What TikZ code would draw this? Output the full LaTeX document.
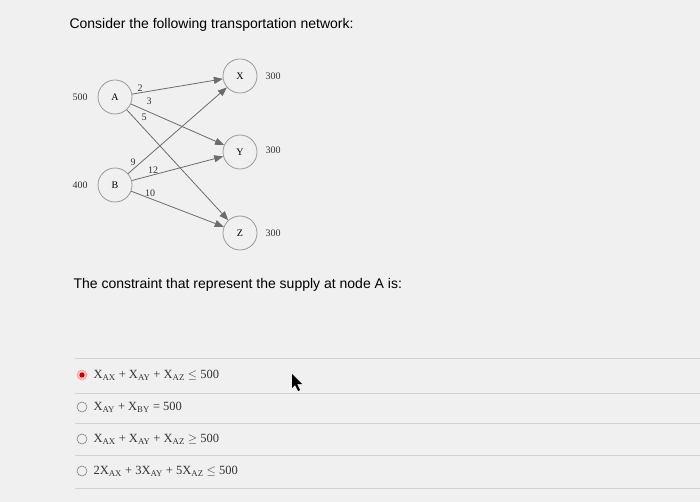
\documentclass[tikz,border=0pt]{standalone}
\usepackage{fontspec}
\setmainfont{Liberation Serif}
\newfontfamily\qsans{Liberation Sans}
\usetikzlibrary{arrows.meta}
\begin{document}
\begin{tikzpicture}[x=1pt,y=-1pt,
  nd/.style={circle,draw=gray!80,line width=0.8pt,minimum size=34pt,inner sep=0pt,font=\fontsize{10}{11}\selectfont},
  lab/.style={font=\fontsize{10}{11}\selectfont,text=black!80},
  arc/.style={draw=gray!85!black,line width=0.8pt,-{Triangle[length=9pt,width=7pt]}},
  opt/.style={anchor=west,font=\fontsize{12.5}{14}\selectfont,text=black!80},
  radio/.style={circle,draw=gray,line width=0.6pt,minimum size=10pt,inner sep=0pt},
  sep/.style={draw=gray!35,line width=0.6pt}]
\fill[gray!12] (0,0) rectangle (700,502);
\useasboundingbox (0,0) rectangle (700,502);
\node[anchor=west,font=\qsans\fontsize{14}{16}\selectfont] (q1) at (66,25) {Consider the following transportation network:};
\node[nd] (A) at (115,97) {A};
\node[nd] (B) at (115,185) {B};
\node[nd] (X) at (240,76) {X};
\node[nd] (Y) at (240,152) {Y};
\node[nd] (Z) at (240,233) {Z};
\node[lab] (sA) at (80,97) {500};
\node[lab] (sB) at (80,185) {400};
\node[lab] (dX) at (273,76) {300};
\node[lab] (dY) at (273,150) {300};
\node[lab] (dZ) at (273,233) {300};
\draw[arc] (A) -- (X);
\draw[arc] (A) -- (Y);
\draw[arc] (A) -- (Z);
\draw[arc] (B) -- (X);
\draw[arc] (B) -- (Y);
\draw[arc] (B) -- (Z);
\node[lab] (w1) at (140,88) {2};
\node[lab] (w2) at (149,101) {3};
\node[lab] (w3) at (144,117) {5};
\node[lab] (w4) at (133,162) {9};
\node[lab] (w5) at (153,170) {12};
\node[lab] (w6) at (150,193) {10};
\node[anchor=west,font=\qsans\fontsize{14}{16}\selectfont] (q2) at (70,285) {The constraint that represent the supply at node A is:};
\foreach \y in {358,393,423,455,488} \draw[sep] (75,\y) -- (700,\y);
\node[radio,draw=red!40,fill=red!25] (r1) at (82,375) {};
\fill[red!75!black] (r1.center) circle (2.6);
\node[radio] (r2) at (82,407) {};
\node[radio] (r3) at (82,439) {};
\node[radio] (r4) at (82,471) {};
\node[opt] (o1) at (90,375) {X\textsubscript{AX} + X\textsubscript{AY} + X\textsubscript{AZ} $\leq$ 500};
\node[opt] (o2) at (90,407) {X\textsubscript{AY} + X\textsubscript{BY} = 500};
\node[opt] (o3) at (90,439) {X\textsubscript{AX} + X\textsubscript{AY} + X\textsubscript{AZ} $\geq$ 500};
\node[opt] (o4) at (90,471) {2X\textsubscript{AX} + 3X\textsubscript{AY} + 5X\textsubscript{AZ} $\leq$ 500};
\fill[black] (292,374) -- (292,388) -- (295,385) -- (298,391) -- (300,390) -- (297,384) -- (302,384) -- cycle;
\end{tikzpicture}
\end{document}
